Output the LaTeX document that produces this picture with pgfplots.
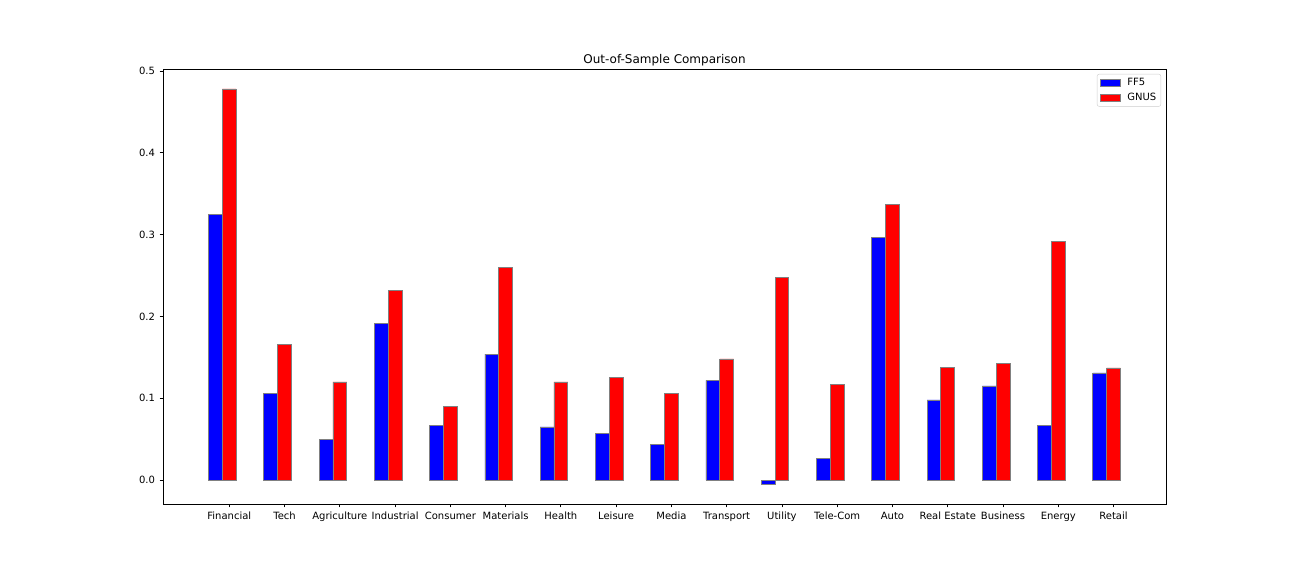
\documentclass[border=0pt]{standalone}
\usepackage{fontspec}
\setmainfont{DejaVu Sans}
\usepackage{pgfplots}
\pgfplotsset{compat=1.18}
\pgfplotstableread{
x y
-0.25 0.325
0.75 0.106
1.75 0.050
2.75 0.191
3.75 0.067
4.75 0.154
5.75 0.065
6.75 0.057
7.75 0.044
8.75 0.122
9.75 -0.005
10.75 0.026
11.75 0.296
12.75 0.098
13.75 0.115
14.75 0.067
15.75 0.131
}\ffive
\pgfplotstableread{
x y
0 0.478
1 0.166
2 0.120
3 0.232
4 0.090
5 0.260
6 0.120
7 0.125
8 0.106
9 0.148
10 0.248
11 0.117
12 0.337
13 0.138
14 0.143
15 0.292
16 0.137
}\gnus
\begin{document}
\fontsize{10bp}{12bp}\selectfont
\begin{tikzpicture}[x=1bp,y=1bp]
\path[use as bounding box] (0,0) rectangle (1296,576);
\begin{axis}[
  at={(163bp,72bp)}, anchor=south west,
  width=1003bp, height=435bp, scale only axis,
  xmin=-1.2, xmax=16.95, ymin=-0.0292, ymax=0.5024,
  ybar, bar width=0.25, bar shift=0pt,
  xtick={0,...,16},
  xticklabels={Financial,Tech,Agriculture,Industrial,Consumer,Materials,Health,Leisure,Media,Transport,Utility,Tele-Com,Auto,Real Estate,Business,Energy,Retail},
  ytick={0,0.1,0.2,0.3,0.4,0.5},
  yticklabels={0.0,0.1,0.2,0.3,0.4,0.5},
  tick align=outside, major tick length=3.5bp,
  xtick pos=bottom, ytick pos=left,
  tick style={black, line width=0.8bp},
  axis line style={line width=0.8bp},
  ticklabel style={font=\fontsize{10bp}{12bp}\selectfont},
  /pgf/number format/assume math mode=true,
  xticklabel style={yshift=-1bp},
  yticklabel style={xshift=-1bp},
  title={Out-of-Sample Comparison},
  title style={font=\fontsize{12bp}{14bp}\selectfont, yshift=-7bp},
  legend style={at={(rel axis cs:1,1)}, xshift=-5bp, yshift=-5bp, anchor=north east,
    draw=black!20, rounded corners=2bp, fill=white,
    font=\fontsize{10bp}{12bp}\selectfont, row sep=1.5bp, inner sep=2.5bp},
  legend cell align=left,
  legend image code/.code={\draw[#1, sharp corners] (0bp,-3.5bp) rectangle (20bp,3.5bp);\path (25bp,0);},
]
\addplot[fill=blue, draw=gray, line width=0.8bp] table[x=x,y=y] {\ffive};
\addlegendentry{FF5}
\addplot[fill=red, draw=gray, line width=0.8bp] table[x=x,y=y] {\gnus};
\addlegendentry{GNUS}
\end{axis}
\end{tikzpicture}
\end{document}
